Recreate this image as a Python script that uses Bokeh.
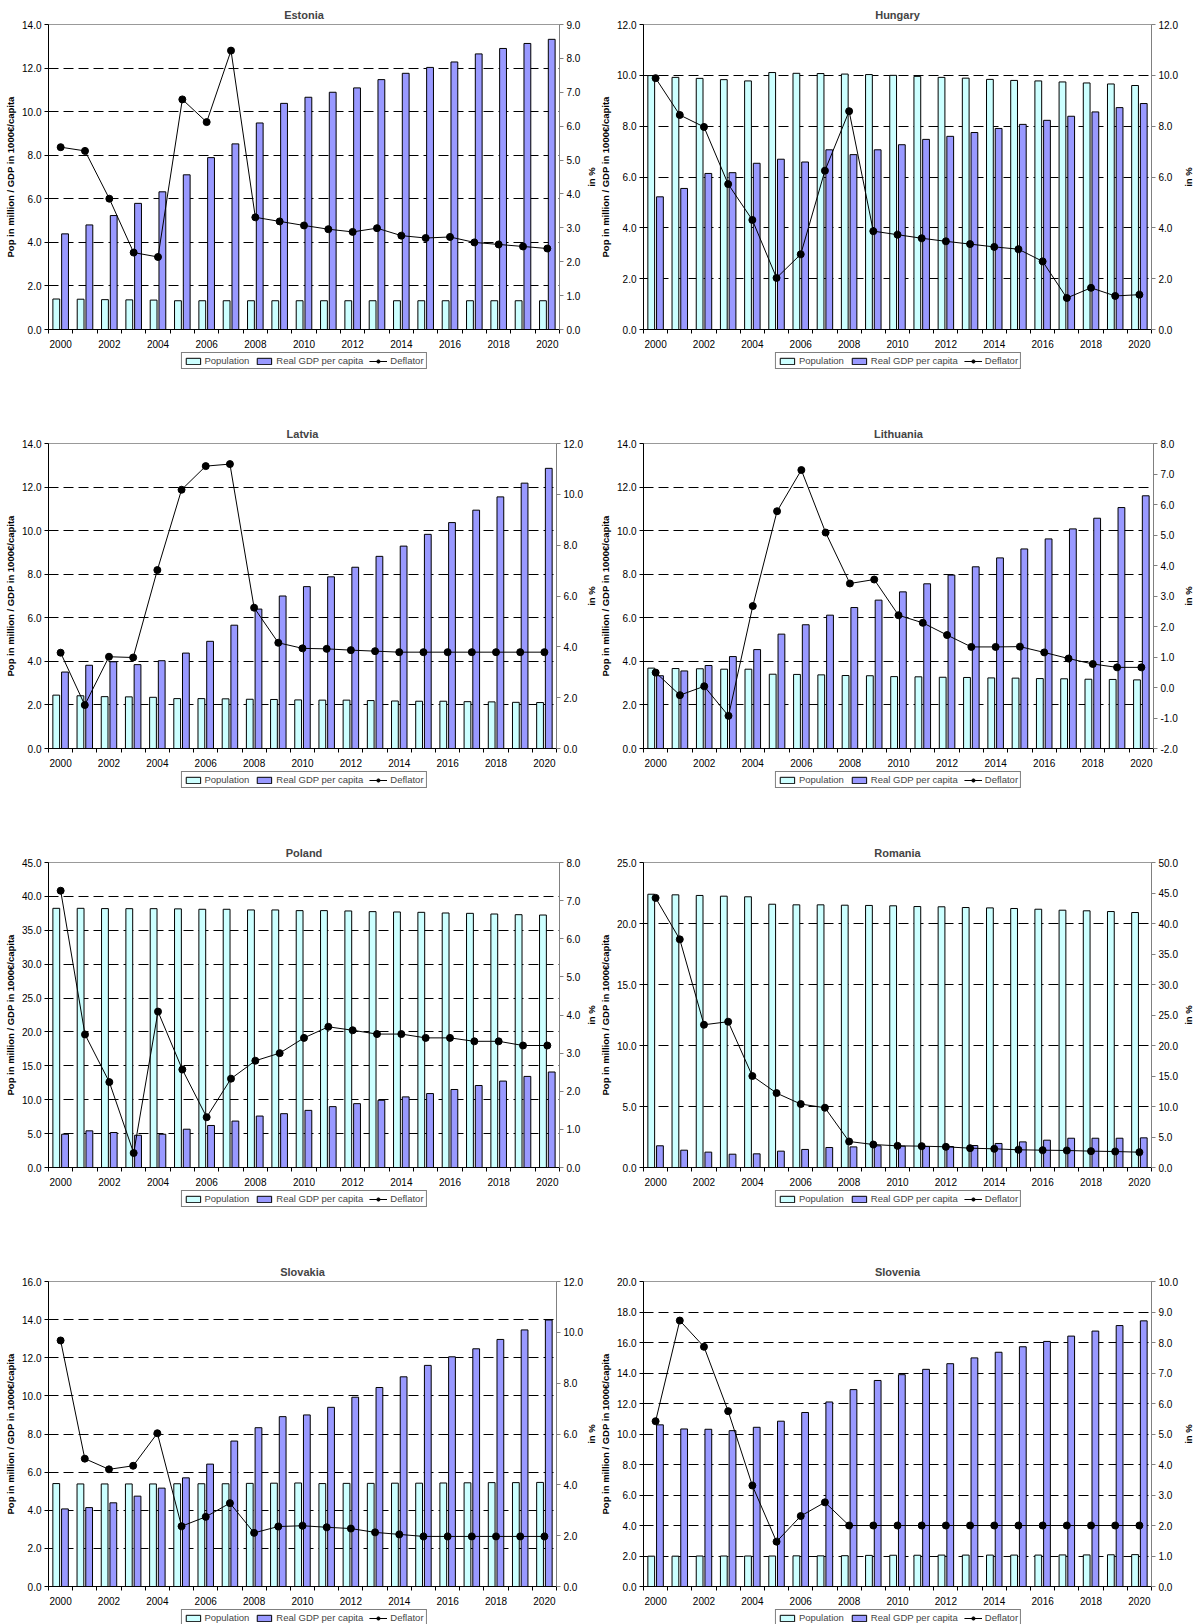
import math
from bokeh.plotting import figure
from bokeh.models import (Range1d, LinearAxis, FixedTicker, NumeralTickFormatter,
                          Legend, LegendItem, ColumnDataSource, Label)
from bokeh.layouts import column, row
from bokeh.embed import file_html
from bokeh.resources import INLINE
from bokeh.transform import dodge

years = list(range(2000, 2021))
year_labels = [str(y) for y in range(2000, 2021, 2)]

estonia_pop = [1.40, 1.39, 1.37, 1.36, 1.35, 1.32, 1.32, 1.32, 1.32, 1.32, 1.32, 1.32, 1.32, 1.32, 1.32, 1.32, 1.32, 1.32, 1.32, 1.32, 1.32]
estonia_gdp = [4.39, 4.80, 5.23, 5.79, 6.32, 7.10, 7.89, 8.52, 9.48, 10.38, 10.66, 10.89, 11.09, 11.47, 11.76, 12.03, 12.28, 12.65, 12.90, 13.13, 13.32]
estonia_defl = [5.38, 5.27, 3.86, 2.27, 2.14, 6.79, 6.12, 8.23, 3.31, 3.19, 3.07, 2.96, 2.88, 2.99, 2.77, 2.70, 2.73, 2.57, 2.51, 2.45, 2.39]

hungary_pop = [9.99, 9.92, 9.88, 9.83, 9.78, 10.11, 10.08, 10.07, 10.05, 10.03, 10.00, 9.96, 9.92, 9.89, 9.84, 9.80, 9.78, 9.74, 9.70, 9.66, 9.60]
hungary_gdp = [5.22, 5.55, 6.14, 6.17, 6.54, 6.70, 6.59, 7.07, 6.88, 7.07, 7.27, 7.48, 7.60, 7.75, 7.91, 8.07, 8.23, 8.39, 8.56, 8.73, 8.89]
hungary_defl = [9.89, 8.44, 7.97, 5.72, 4.31, 2.03, 2.96, 6.25, 8.59, 3.87, 3.73, 3.59, 3.47, 3.36, 3.25, 3.16, 2.68, 1.24, 1.64, 1.32, 1.37]

latvia_pop = [2.45, 2.42, 2.38, 2.37, 2.35, 2.29, 2.29, 2.28, 2.26, 2.25, 2.23, 2.22, 2.22, 2.20, 2.18, 2.17, 2.17, 2.15, 2.14, 2.12, 2.11]
latvia_gdp = [3.51, 3.82, 3.98, 3.85, 4.03, 4.38, 4.92, 5.66, 6.40, 7.00, 7.43, 7.88, 8.32, 8.82, 9.29, 9.83, 10.37, 10.94, 11.55, 12.18, 12.86]
latvia_defl = [3.77, 1.71, 3.61, 3.58, 7.02, 10.18, 11.11, 11.19, 5.54, 4.16, 3.94, 3.92, 3.87, 3.83, 3.79, 3.79, 3.79, 3.79, 3.79, 3.79, 3.79]

lithuania_pop = [3.69, 3.67, 3.66, 3.64, 3.64, 3.41, 3.40, 3.38, 3.35, 3.34, 3.30, 3.29, 3.27, 3.26, 3.24, 3.23, 3.21, 3.20, 3.18, 3.17, 3.15]
lithuania_gdp = [3.34, 3.56, 3.81, 4.22, 4.54, 5.25, 5.68, 6.12, 6.47, 6.81, 7.19, 7.56, 7.96, 8.34, 8.75, 9.16, 9.62, 10.08, 10.57, 11.06, 11.60]
lithuania_defl = [0.49, -0.25, 0.04, -0.93, 2.67, 5.78, 7.13, 5.08, 3.41, 3.54, 2.37, 2.12, 1.72, 1.33, 1.33, 1.34, 1.15, 0.95, 0.77, 0.66, 0.66]

poland_pop = [38.24, 38.24, 38.20, 38.19, 38.19, 38.16, 38.10, 38.10, 38.00, 38.00, 37.90, 37.90, 37.85, 37.75, 37.70, 37.65, 37.55, 37.50, 37.40, 37.30, 37.25]
poland_gdp = [4.91, 5.41, 5.16, 4.76, 4.91, 5.65, 6.20, 6.85, 7.59, 7.94, 8.43, 8.98, 9.42, 9.92, 10.42, 10.91, 11.51, 12.10, 12.75, 13.44, 14.09]
poland_defl = [7.26, 3.49, 2.24, 0.38, 4.09, 2.57, 1.32, 2.33, 2.80, 3.00, 3.40, 3.69, 3.60, 3.50, 3.50, 3.40, 3.40, 3.31, 3.31, 3.20, 3.20]

romania_pop = [22.40, 22.35, 22.30, 22.24, 22.19, 21.58, 21.53, 21.53, 21.50, 21.48, 21.45, 21.39, 21.37, 21.31, 21.28, 21.23, 21.17, 21.09, 21.04, 20.98, 20.90]
romania_gdp = [1.78, 1.42, 1.26, 1.09, 1.12, 1.34, 1.48, 1.64, 1.69, 1.78, 1.75, 1.72, 1.72, 1.80, 1.97, 2.10, 2.24, 2.40, 2.40, 2.40, 2.43]
romania_defl = [44.2, 37.4, 23.4, 23.9, 15.0, 12.2, 10.4, 9.8, 4.26, 3.77, 3.55, 3.50, 3.39, 3.17, 3.06, 2.90, 2.84, 2.79, 2.68, 2.62, 2.51]

slovakia_pop = [5.40, 5.38, 5.38, 5.38, 5.38, 5.39, 5.39, 5.39, 5.41, 5.42, 5.43, 5.40, 5.41, 5.41, 5.42, 5.42, 5.43, 5.44, 5.45, 5.45, 5.46]
slovakia_gdp = [4.07, 4.14, 4.39, 4.74, 5.16, 5.70, 6.42, 7.63, 8.33, 8.91, 9.00, 9.40, 9.93, 10.44, 11.00, 11.60, 12.05, 12.47, 12.96, 13.46, 13.98]
slovakia_defl = [9.68, 5.03, 4.61, 4.75, 6.03, 2.37, 2.74, 3.28, 2.11, 2.36, 2.39, 2.33, 2.28, 2.13, 2.05, 1.97, 1.97, 1.97, 1.97, 1.97, 1.97]

slovenia_pop = [1.99, 1.99, 2.00, 2.00, 2.00, 2.00, 2.01, 2.01, 2.02, 2.04, 2.05, 2.05, 2.06, 2.06, 2.06, 2.06, 2.06, 2.07, 2.07, 2.08, 2.09]
slovenia_gdp = [10.60, 10.33, 10.31, 10.22, 10.44, 10.84, 11.41, 12.10, 12.91, 13.51, 13.89, 14.24, 14.61, 14.99, 15.36, 15.72, 16.07, 16.42, 16.75, 17.11, 17.42]
slovenia_defl = [5.42, 8.72, 7.86, 5.75, 3.31, 1.47, 2.31, 2.76, 2.00, 2.00, 2.00, 2.00, 2.00, 2.00, 2.00, 2.00, 2.00, 2.00, 2.00, 2.00, 2.00]

left_axes = {"Estonia": (0, 14, 2), "Hungary": (0, 12, 2), "Latvia": (0, 14, 2), "Lithuania": (0, 14, 2),
             "Poland": (0, 45, 5), "Romania": (0, 25, 5), "Slovakia": (0, 16, 2), "Slovenia": (0, 20, 2)}
right_axes = {"Estonia": (0, 9, 1), "Hungary": (0, 12, 2), "Latvia": (0, 12, 2), "Lithuania": (-2, 8, 1),
              "Poland": (0, 8, 1), "Romania": (0, 50, 5), "Slovakia": (0, 12, 2), "Slovenia": (0, 10, 1)}

left_title = "Pop in million / GDP in 1000\u20ac/capita"
right_title = "in %"
series_names = ["Population", "Real GDP per capita", "Deflator"]

FONT = "Liberation Sans"
POP_COLOR = "#CCFFFF"
GDP_COLOR = "#9999FF"
TOP = 24
BOTTOM = 22
FRAME_H = 305
MAIN_H = TOP + FRAME_H + BOTTOM
ROW_H = 419
PAGE_H = 1624


def ticks(ax):
    lo, hi, st = ax
    n = int(round((hi - lo) / st))
    return [round(lo + i * st, 6) for i in range(n + 1)]


def style_axis(ax, line_color="black"):
    ax.axis_line_color = line_color
    ax.major_tick_line_color = line_color
    ax.major_tick_out = 4
    ax.major_tick_in = 0
    ax.minor_tick_line_color = None
    ax.major_label_text_font = FONT
    ax.major_label_text_font_size = "10px"
    ax.major_label_text_color = "black"
    ax.major_label_standoff = 3
    ax.axis_label_text_font = FONT
    ax.axis_label_text_font_size = "9.5px"
    ax.axis_label_text_font_style = "bold"
    ax.axis_label_text_color = "black"
    ax.axis_label_standoff = 3


# (total width, left border, right border of main figure, width of the "in %" strip)
def borders(col):
    if col == 0:
        return 597, 48, 26, 12
    return 598, 46, 27, 15


def make_panel(name, pop, gdp, defl, col):
    w, mbl, mbr, lw = borders(col)
    lax = left_axes[name]
    rax = right_axes[name]
    p = figure(width=w - lw, height=MAIN_H, output_backend="svg", toolbar_location=None,
               x_range=Range1d(1999.5, 2020.5), y_range=Range1d(lax[0], lax[1]),
               min_border_left=mbl, min_border_right=mbr, min_border_top=TOP,
               min_border_bottom=BOTTOM, title=name)
    p.title.text_font = FONT
    p.title.text_font_size = "11px"
    p.title.text_font_style = "bold"
    p.title.align = "center"
    p.title.standoff = 8
    p.outline_line_color = "#999999"

    p.extra_y_ranges = {"r": Range1d(rax[0], rax[1])}

    lt = ticks(lax)
    yl = p.left[0]
    yl.ticker = FixedTicker(ticks=lt)
    yl.formatter = NumeralTickFormatter(format="0.0")
    yl.axis_label = left_title
    style_axis(yl)

    yr = LinearAxis(y_range_name="r", ticker=FixedTicker(ticks=ticks(rax)),
                    formatter=NumeralTickFormatter(format="0.0"), axis_label=None)
    style_axis(yr, "#808080")
    p.add_layout(yr, "right")

    xa = p.below[0]
    xa.axis_label = None
    xa.ticker = FixedTicker(ticks=[int(s) for s in year_labels],
                            minor_ticks=[y - 0.5 for y in years] + [years[-1] + 0.5])
    style_axis(xa)
    xa.major_tick_out = 0
    xa.minor_tick_line_color = "black"
    xa.minor_tick_out = 4
    xa.minor_tick_in = 0
    xa.major_label_standoff = 6

    p.xgrid.visible = False
    p.ygrid.ticker = FixedTicker(ticks=lt)
    p.ygrid.grid_line_color = "black"
    p.ygrid.grid_line_dash = "10 5"

    src = ColumnDataSource(dict(year=years, pop=pop, gdp=gdp, defl=defl))
    p.vbar(x=dodge("year", -0.18), top="pop", bottom=0, width=0.28, source=src,
           fill_color=POP_COLOR, line_color="black")
    p.vbar(x=dodge("year", 0.18), top="gdp", bottom=0, width=0.28, source=src,
           fill_color=GDP_COLOR, line_color="black")
    p.line("year", "defl", source=src, y_range_name="r", line_color="black")
    p.scatter("year", "defl", source=src, y_range_name="r", size=7,
              fill_color="black", line_color="black")
    return p


def make_right_title(col):
    w, mbl, mbr, lw = borders(col)
    s = figure(width=lw, height=MAIN_H, output_backend="svg", toolbar_location=None,
               x_range=Range1d(0, 1), y_range=Range1d(0, 1),
               min_border_left=0, min_border_right=0, min_border_top=TOP,
               min_border_bottom=BOTTOM, x_axis_location=None, y_axis_location=None)
    s.grid.visible = False
    s.outline_line_color = None
    s.add_layout(Label(x=0.5, y=0.5, text=right_title, angle=math.pi / 2,
                       text_align="center", text_baseline="middle", text_font=FONT,
                       text_font_size="9.5px", text_font_style="bold", text_color="black"))
    return s


def make_legend(col, h):
    w, mbl, mbr, lw = borders(col)
    q = figure(width=w, height=h, output_backend="svg", toolbar_location=None,
               x_range=Range1d(0, 1), y_range=Range1d(0, 1),
               min_border_left=mbl, min_border_right=mbr + lw, min_border_top=0, min_border_bottom=0,
               x_axis_location=None, y_axis_location=None)
    q.grid.visible = False
    q.outline_line_color = None
    r1 = q.vbar(x=[-5], top=[-5], bottom=-6, width=0.3, fill_color=POP_COLOR, line_color="black")
    r2 = q.vbar(x=[-5], top=[-5], bottom=-6, width=0.3, fill_color=GDP_COLOR, line_color="black")
    r3 = q.line(x=[-5, -4], y=[-5, -5], line_color="black")
    r4 = q.scatter(x=[-5], y=[-5], size=7, fill_color="black", line_color="black")
    legend = Legend(items=[LegendItem(label=series_names[0], renderers=[r1]),
                           LegendItem(label=series_names[1], renderers=[r2]),
                           LegendItem(label=series_names[2], renderers=[r3, r4])],
                    orientation="horizontal", location="top_center")
    legend.label_text_font = FONT
    legend.label_text_font_size = "9.5px"
    legend.label_height = 10
    legend.glyph_height = 8
    legend.glyph_width = 18
    legend.label_standoff = 3
    legend.spacing = 6
    legend.padding = 2
    legend.margin = 1
    legend.border_line_color = "black"
    legend.border_line_width = 1
    q.add_layout(legend)
    return q


panels = [
    ("Estonia", estonia_pop, estonia_gdp, estonia_defl),
    ("Hungary", hungary_pop, hungary_gdp, hungary_defl),
    ("Latvia", latvia_pop, latvia_gdp, latvia_defl),
    ("Lithuania", lithuania_pop, lithuania_gdp, lithuania_defl),
    ("Poland", poland_pop, poland_gdp, poland_defl),
    ("Romania", romania_pop, romania_gdp, romania_defl),
    ("Slovakia", slovakia_pop, slovakia_gdp, slovakia_defl),
    ("Slovenia", slovenia_pop, slovenia_gdp, slovenia_defl),
]

rows = []
for i in range(4):
    if i < 3:
        leg_h = ROW_H - MAIN_H
    else:
        leg_h = PAGE_H - 3 * ROW_H - MAIN_H
    cols = []
    for j in range(2):
        name, pop, gdp, defl = panels[2 * i + j]
        top_part = row(make_panel(name, pop, gdp, defl, j), make_right_title(j))
        cols.append(column(top_part, make_legend(j, leg_h)))
    rows.append(row(*cols))

layout = column(*rows)
open("out.html", "w").write(file_html(layout, INLINE))
